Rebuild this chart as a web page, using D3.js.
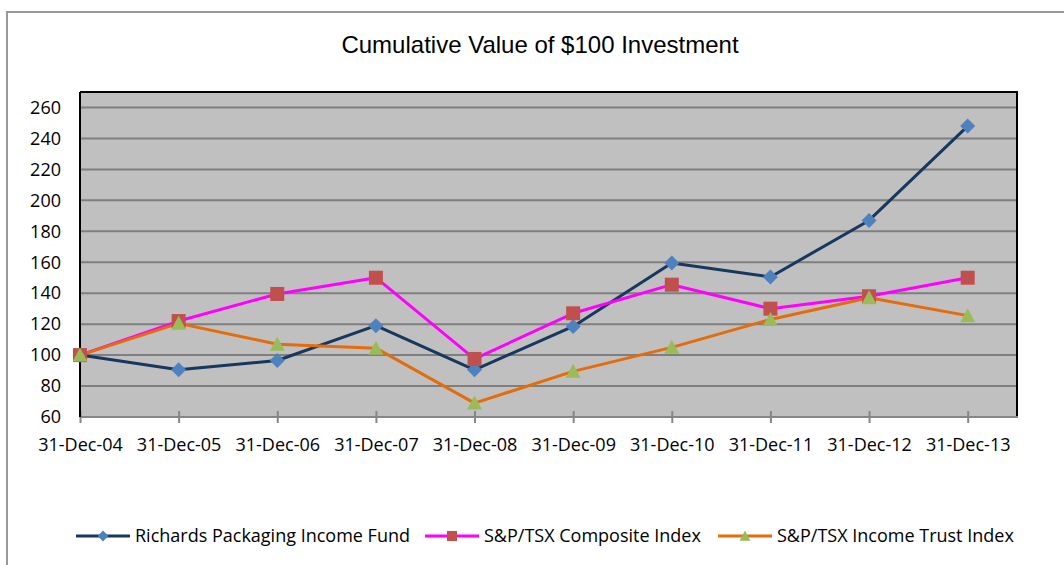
<!DOCTYPE html>
<html>
<head>
<meta charset="utf-8">
<script src="https://cdn.jsdelivr.net/npm/d3@7"></script>
<style>
  body { margin: 0; background: #fff; }
</style>
</head>
<body>
<div id="chart"></div>
<script>
// Data
const categories = ["31-Dec-04", "31-Dec-05", "31-Dec-06", "31-Dec-07", "31-Dec-08",
  "31-Dec-09", "31-Dec-10", "31-Dec-11", "31-Dec-12", "31-Dec-13"];
const richards = [100, 90.5, 96.5, 119, 90.5, 118.5, 159.5, 150.5, 187, 248];
const composite = [100, 122, 139.5, 150, 97.5, 127, 145.5, 130, 138, 150];
const incomeTrust = [100, 120.5, 107, 104.5, 69, 89.5, 105, 123, 137, 125.5];
const yTicks = [60, 80, 100, 120, 140, 160, 180, 200, 220, 240, 260];

const series = [
  { name: "Richards Packaging Income Fund", values: richards, line: "#17375e", fill: "#4f81bd", shape: "diamond" },
  { name: "S&P/TSX Composite Index", values: composite, line: "#ff00ff", fill: "#c0504d", shape: "square" },
  { name: "S&P/TSX Income Trust Index", values: incomeTrust, line: "#e46c0a", fill: "#9bbb59", shape: "triangle" }
];

const width = 1064;
const height = 565;
const plot = { left: 80, top: 92, right: 1017, bottom: 417 };
const labelFont = "'Open Sans', sans-serif";

const svg = d3.select("#chart")
  .append("svg")
  .attr("width", width)
  .attr("height", height);

// outer chart border
svg.append("rect")
  .attr("x", 7).attr("y", 12)
  .attr("width", 1070).attr("height", 570)
  .attr("fill", "none")
  .attr("stroke", "#999")
  .attr("stroke-width", 2);

// Scales: last category sits half a step inside the right edge
const step = (plot.right - plot.left) / (categories.length - 0.5);
const x = d3.scalePoint()
  .domain(categories)
  .range([plot.left, plot.left + step * (categories.length - 1)]);

const y = d3.scaleLinear()
  .domain([60, 270])
  .range([plot.bottom, plot.top]);

// plot background
svg.append("rect")
  .attr("x", plot.left).attr("y", plot.top)
  .attr("width", plot.right - plot.left)
  .attr("height", plot.bottom - plot.top)
  .attr("fill", "#c0c0c0");

// gridlines
svg.append("g")
  .selectAll("line")
  .data(yTicks.filter(d => d > 60))
  .join("line")
  .attr("x1", plot.left).attr("x2", plot.right)
  .attr("y1", d => y(d)).attr("y2", d => y(d))
  .attr("stroke", "#7f7f7f")
  .attr("stroke-width", 2);

// plot border (top/right)
svg.append("path")
  .attr("d", `M${plot.left},${plot.top}H${plot.right}V${plot.bottom}`)
  .attr("fill", "none")
  .attr("stroke", "#000")
  .attr("stroke-width", 2);

// x axis
const xAxis = svg.append("g")
  .attr("transform", `translate(0,${plot.bottom})`)
  .call(d3.axisBottom(x).tickSize(6).tickPadding(15));
xAxis.select(".domain").remove();
xAxis.append("line")
  .attr("x1", plot.left).attr("x2", plot.right + 1)
  .attr("stroke", "#868686").attr("stroke-width", 2);
xAxis.selectAll(".tick line")
  .attr("y1", -6).attr("y2", 6)
  .attr("stroke", "#868686").attr("stroke-width", 2);
xAxis.selectAll(".tick text")
  .attr("fill", "#000")
  .style("font-family", labelFont)
  .style("font-size", "18px");

// y axis
const yAxis = svg.append("g")
  .attr("transform", `translate(${plot.left},0)`)
  .call(d3.axisLeft(y).tickValues(yTicks).tickSize(0).tickPadding(19));
yAxis.select(".domain").remove();
yAxis.append("line")
  .attr("y1", plot.top).attr("y2", plot.bottom)
  .attr("stroke", "#000").attr("stroke-width", 2);
yAxis.selectAll(".tick text")
  .attr("fill", "#000")
  .style("font-family", labelFont)
  .style("font-size", "18px");

// markers
function marker(sel, shape, fill) {
  if (shape === "diamond") {
    sel.append("path").attr("d", "M0,-7.5L7.5,0L0,7.5L-7.5,0Z").attr("fill", fill);
  } else if (shape === "square") {
    sel.append("rect").attr("x", -7).attr("y", -7).attr("width", 14).attr("height", 14).attr("fill", fill);
  } else {
    sel.append("path").attr("d", "M0,-7.5L7.5,6.5L-7.5,6.5Z").attr("fill", fill);
  }
}

const line = d3.line()
  .x((d, i) => x(categories[i]))
  .y(d => y(d));

series.forEach(s => {
  svg.append("path")
    .datum(s.values)
    .attr("d", line)
    .attr("fill", "none")
    .attr("stroke", s.line)
    .attr("stroke-width", 3)
    .attr("stroke-linejoin", "round");
});
series.forEach(s => {
  svg.append("g")
    .selectAll("g")
    .data(s.values)
    .join("g")
    .attr("transform", (d, i) => `translate(${x(categories[i])},${y(d)})`)
    .each(function() { marker(d3.select(this), s.shape, s.fill); });
});

// title
svg.append("text")
  .attr("x", 540).attr("y", 53)
  .attr("text-anchor", "middle")
  .style("font-family", "'Liberation Sans', Arial, sans-serif")
  .style("font-size", "24px")
  .text("Cumulative Value of $100 Investment");

// legend
const legendX = [76, 425, 718];
const legendY = 536;
series.forEach((s, i) => {
  const g = svg.append("g").attr("transform", `translate(${legendX[i]},${legendY})`);
  g.append("line").attr("x1", 0).attr("x2", 54)
    .attr("stroke", s.line).attr("stroke-width", 3);
  marker(g.append("g").attr("transform", "translate(27,0) scale(0.72)"), s.shape, s.fill);
  g.append("text")
    .attr("x", 59).attr("dy", "0.35em")
    .style("font-family", labelFont)
    .style("font-size", "18px")
    .text(s.name);
});
</script>
</body>
</html>
